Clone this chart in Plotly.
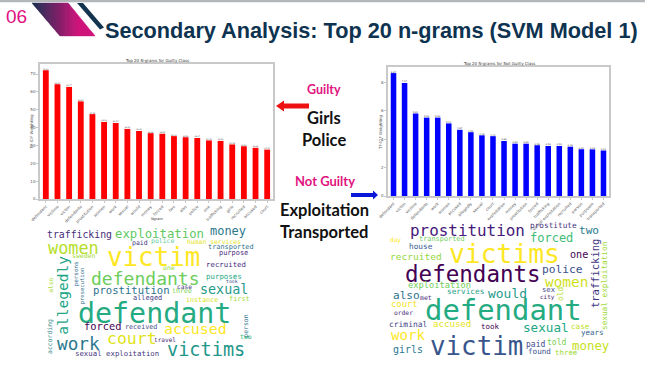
import plotly.graph_objects as go

W, H = 645, 365

guilty_ngrams = ["defendant", "victims", "victim", "defendants", "prostitution", "women", "work", "sexual", "would", "money",
                 "forced", "two", "also", "police", "one", "trafficking", "girls", "recruited", "accused", "court"]
guilty_values = [72.12, 64.27, 62.77, 54.67, 47.53, 43.16, 42.57, 39.25, 38.09, 36.86,
                 36.54, 35.21, 34.58, 34.17, 32.78, 32.53, 30.54, 29.54, 28.68, 27.67]
not_guilty_ngrams = ["defendant", "victim", "victims", "defendants", "work", "women", "accused", "allegedly", "sexual", "court",
                     "exploitation", "money", "prostitution", "forced", "trafficking", "sexual exploitation", "recruited",
                     "person", "purposes", "transported"]
not_guilty_values = [8.67, 7.97, 5.82, 5.53, 5.53, 5.12, 4.67, 4.50, 4.28, 4.22,
                     3.88, 3.69, 3.69, 3.58, 3.53, 3.53, 3.48, 3.30, 3.29, 3.21]

# Word-cloud layouts: word, centre x, centre y, extent along the text, vertical?, colour
# (in zoomed pixels of each cloud's panel; converted to page pixels below)
left_cloud = [
    ("trafficking", 237, 57, 195, 0, "#472d7b"), ("exploitation", 478, 57, 267, 0, "#5ec962"),
    ("money", 684, 48, 108, 0, "#2a788e"), ("women", 221, 98, 152, 0, "#b5de2b"),
    ("victim", 460, 125, 280, 0, "#fde725"), ("paid", 421, 84, 47, 0, "#443a83"),
    ("police", 487, 79, 70, 0, "#5ec9a0"), ("human services", 641, 80, 162, 0, "#e5e419"),
    ("transported", 693, 97, 137, 0, "#2c728e"), ("purpose", 699, 113, 88, 0, "#482878"),
    ("sweden", 250, 123, 70, 0, "#a0da39"), ("recruited", 677, 147, 120, 0, "#46327e"),
    ("one", 507, 158, 35, 0, "#90d743"), ("defendants", 435, 190, 326, 0, "#6ccd5a"),
    ("purposes", 673, 183, 107, 0, "#26a985"), ("took", 697, 199, 35, 0, "#3b528b"),
    ("allegedly", 188, 240, 236, 1, "#21a585"), ("persons", 228, 178, 75, 1, "#31688e"),
    ("prosecution", 248, 212, 110, 1, "#2f6c8e"), ("also", 153, 212, 45, 1, "#a5db36"),
    ("prostitution", 395, 226, 230, 0, "#2c728e"), ("case", 552, 215, 45, 0, "#453781"),
    ("three", 545, 229, 60, 0, "#7ad151"), ("sexual", 672, 222, 145, 0, "#1f9a8a"),
    ("alleged", 441, 249, 88, 0, "#443983"), ("instance", 606, 254, 97, 0, "#d8e219"),
    ("first", 719, 251, 62, 0, "#a2da37"), ("defendant", 462, 295, 460, 0, "#25ab82"),
    ("forced", 308, 333, 113, 0, "#440154"), ("received", 423, 336, 97, 0, "#3e4989"),
    ("person", 737, 333, 70, 1, "#2c728e"), ("accused", 586, 342, 188, 0, "#fde725"),
    ("according", 148, 365, 105, 1, "#3b8a8c"), ("court", 397, 370, 149, 0, "#dfe318"),
    ("work", 234, 388, 128, 0, "#2a788e"), ("two", 739, 367, 35, 0, "#2fb47c"),
    ("travel", 495, 374, 66, 0, "#481b6d"), ("victims", 617, 403, 235, 0, "#1f968b"),
    ("sexual exploitation", 351, 414, 253, 0, "#453781"),
]
right_cloud = [
    ("prostitution", 277, 46, 345, 0, "#46197a"), ("prostitute", 535, 32, 140, 0, "#463480"),
    ("two", 643, 48, 60, 0, "#287c8e"), ("forced", 530, 68, 130, 0, "#3dbc74"),
    ("transported", 201, 71, 137, 0, "#6ece58"), ("day", 61, 75, 33, 0, "#fde725"),
    ("house", 137, 93, 70, 0, "#35608d"), ("victims", 388, 118, 333, 0, "#fde725"),
    ("recruited", 124, 123, 155, 0, "#95d840"), ("one", 612, 119, 55, 0, "#440154"),
    ("trafficking", 658, 176, 208, 1, "#443a83"), ("sexual exploitation", 688, 212, 265, 1, "#a0da39"),
    ("defendants", 293, 178, 407, 0, "#440154"), ("police", 561, 162, 122, 0, "#3b528b"),
    ("women", 575, 200, 130, 0, "#d0e11c"), ("exploitation", 192, 211, 189, 0, "#6ece58"),
    ("services", 271, 230, 112, 0, "#1f9e89"), ("would", 396, 236, 117, 0, "#1f9a8a"),
    ("sex", 522, 222, 39, 0, "#3e4989"), ("old", 556, 236, 43, 1, "#b5de2b"),
    ("also", 95, 241, 80, 0, "#2c728e"), ("met", 152, 250, 35, 0, "#482878"),
    ("city", 518, 247, 43, 0, "#482173"), ("court", 87, 267, 80, 0, "#f1e51d"),
    ("defendant", 385, 285, 470, 0, "#25ab82"), ("order", 86, 293, 57, 0, "#482878"),
    ("criminal", 102, 327, 115, 0, "#414487"), ("accused", 230, 328, 115, 0, "#e5e419"),
    ("sexual", 513, 338, 137, 0, "#22a884"), ("took", 345, 334, 54, 0, "#440154"),
    ("case", 615, 335, 55, 0, "#bddf26"), ("years", 651, 353, 68, 0, "#33638d"),
    ("work", 99, 360, 102, 0, "#fde725"), ("victim", 305, 392, 280, 0, "#39568c"),
    ("paid", 481, 388, 58, 0, "#3e4989"), ("told", 544, 381, 58, 0, "#7ad151"),
    ("money", 646, 391, 112, 0, "#c5e021"), ("girls", 100, 403, 90, 0, "#2a788e"),
    ("found", 492, 410, 69, 0, "#3a548c"), ("three", 573, 413, 67, 0, "#a0da39"),
]


def px(x):
    return x / W


def py(y):
    return 1 - y / H


def poly(points, color, line=0):
    path = "M " + " L ".join(f"{px(x):.5f},{py(y):.5f}" for x, y in points) + " Z"
    return dict(type="path", path=path, xref="paper", yref="paper", fillcolor=color,
                line=dict(color=color, width=line), layer="below")


def text(s, x, y, size, color, family="Lato", bold=False, angle=0, anchor="center"):
    return dict(text=f"<b>{s}</b>" if bold else s, x=px(x), y=py(y), xref="paper", yref="paper",
                showarrow=False, xanchor=anchor, yanchor="middle", textangle=angle,
                font=dict(size=size, color=color, family=family))


def lerp(a, b, t):
    return "#" + "".join(f"{round(a[i] + (b[i] - a[i]) * t):02x}" for i in range(3))


AX = "#c9c9c9"
TXT = "#555555"
fig = go.Figure()
fig.add_trace(go.Bar(x=guilty_ngrams, y=guilty_values, marker_color="#ff0000", width=0.5,
                     text=[f"{v:.2f}" for v in guilty_values], textposition="outside", cliponaxis=False,
                     textfont=dict(size=4, color="#444444", family="DejaVu Sans"), xaxis="x", yaxis="y"))
fig.add_trace(go.Bar(x=not_guilty_ngrams, y=not_guilty_values, marker_color="#0000ff", width=0.5,
                     text=[f"{v:.2f}" for v in not_guilty_values], textposition="outside", cliponaxis=False,
                     textfont=dict(size=4, color="#444444", family="DejaVu Sans"), xaxis="x2", yaxis="y2"))

axis_common = dict(showgrid=False, zeroline=False, showline=True, linecolor=AX, linewidth=1.5, mirror=True,
                   ticks="outside", ticklen=2, tickcolor=AX, tickwidth=0.5, automargin=False,
                   tickfont=dict(size=4, color=TXT, family="DejaVu Sans"))

shapes = [dict(type="rect", xref="paper", yref="paper", x0=0, x1=1, y0=py(2.2), y1=1,
               fillcolor="#b4b8bb", line_width=0, layer="below")]
# Header parallelogram, drawn as narrow slices to reproduce its navy-to-pink gradient
def top(x):
    return 3 if x <= 68 else 3 + (x - 68) * 33 / 27


def bottom(x):
    return 3 + (x - 32) * 33 / 28 if x <= 60 else 36


navy, pink = (27, 52, 84), (208, 22, 125)
for i in range(32, 95):
    t = (i - 32) / 62
    shapes.append(poly([(i, top(i)), (i + 1, top(i + 1)), (i + 1, bottom(i + 1)), (i, bottom(i))],
                       lerp(navy, pink, min(1, t * 1.35)), 0.4))
shapes.append(poly([(77, 3), (83, 3), (104, 27.5), (100, 29.5)], "#12344f"))
# Arrows
shapes.append(poly([(309, 103.5), (284, 103.5), (284, 100.5), (276, 106), (284, 111.5), (284, 108.5), (309, 108.5)], "#ee1111"))
shapes.append(poly([(351, 193), (373, 193), (373, 190.5), (378, 195), (373, 199.5), (373, 197), (351, 197)], "#0a18d8"))

ann = [
    text("06", 4, 16, 19, "#e0107f", "Liberation Sans", anchor="left"),
    text("Secondary Analysis: Top 20 n-grams (SVM Model 1)", 103, 31, 21.7, "#0e3350", "Liberation Sans", True, anchor="left"),
    text("Top 20 N-grams for Guilty Class", 157, 61, 4, "#333333", "DejaVu Sans"),
    text("Top 20 N-grams for Not Guilty Class", 499, 64, 4, "#333333", "DejaVu Sans"),
    text("Ngram", 157, 219, 3.5, "#333333", "DejaVu Sans"),
    text("TF-IDF Weighting", 30.5, 132, 4, TXT, "DejaVu Sans", angle=-90),
    text("TF-IDF Weighting", 380, 132, 4, TXT, "DejaVu Sans", angle=-90),
    text("Guilty", 324, 89, 12.5, "#e0147f", bold=True),
    text("Girls", 324, 118, 16.5, "#111111", bold=True),
    text("Police", 324, 140, 16.5, "#111111", bold=True),
    text("Not Guilty", 325, 181, 13, "#e0147f", bold=True),
    text("Exploitation", 324, 210, 16.5, "#111111", bold=True),
    text("Transported", 324, 232, 16.5, "#111111", bold=True),
]
for cloud, ox in ((left_cloud, 0), (right_cloud, 375)):
    for word, cx, cy, extent, vertical, colour in cloud:
        size = extent / 3 / (len(word) * 0.602)
        ann.append(text(word, ox + cx / 3, 215 + cy / 3, round(size, 2), colour, "DejaVu Sans Mono",
                        angle=-90 if vertical else 0))

fig.update_layout(
    template="none",
    width=W, height=H, margin=dict(l=0, r=0, t=0, b=0), autosize=False,
    paper_bgcolor="white", plot_bgcolor="white", showlegend=False, bargap=0.5,
    font=dict(family="DejaVu Sans"),
    xaxis=dict(domain=[px(40), px(273)], anchor="y", tickangle=-45, range=[-0.5, 19.5], **axis_common),
    yaxis=dict(domain=[py(199), py(64)], anchor="x", range=[0, 75.6], tickvals=[0, 10, 20, 30, 40, 50, 60, 70], **axis_common),
    xaxis2=dict(domain=[px(388), px(609)], anchor="y2", tickangle=-45, range=[-0.5, 19.5], **axis_common),
    yaxis2=dict(domain=[py(196), py(67)], anchor="x2", range=[0, 9.1], tickvals=[0, 2, 4, 6, 8], **axis_common),
    shapes=shapes, annotations=ann,
)
fig.write_html("out.html", config={"displayModeBar": False},
               post_script="document.documentElement.style.margin='0';document.body.style.margin='0';document.body.style.padding='0';")
